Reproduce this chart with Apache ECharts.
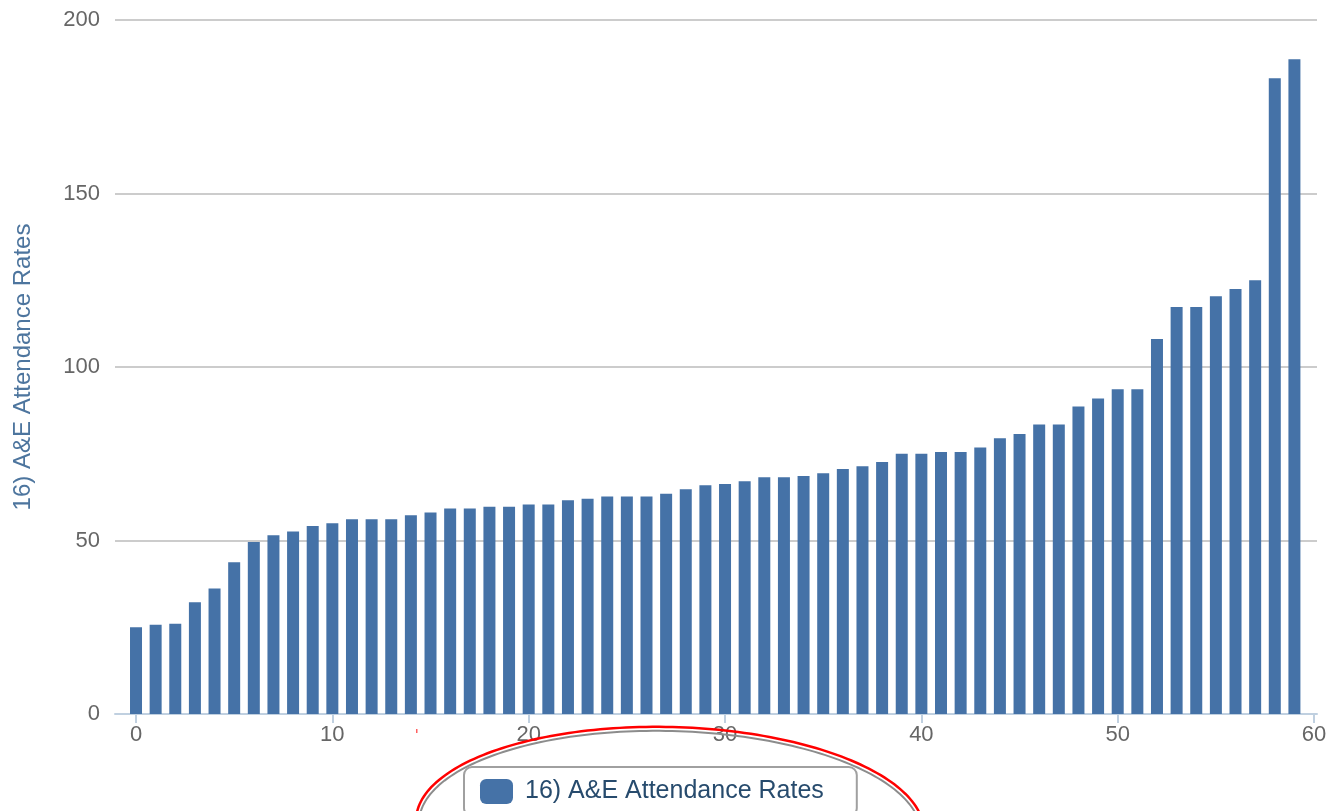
<!DOCTYPE html>
<html>
<head>
<meta charset="utf-8">
<script src="https://cdn.jsdelivr.net/npm/echarts@6/dist/echarts.min.js"></script>
<style>
html,body{margin:0;padding:0;background:#fff;}
#chart{width:1332px;height:811px;}
</style>
</head>
<body>
<div id="chart"></div>
<script>
const seriesName = '16) A&E Attendance Rates';
const indices = [0,1,2,3,4,5,6,7,8,9,10,11,12,13,14,15,16,17,18,19,20,21,22,23,24,25,26,27,28,29,30,31,32,33,34,35,36,37,38,39,40,41,42,43,44,45,46,47,48,49,50,51,52,53,54,55,56,57,58,59];
const values = [25.0,25.7,26.0,32.2,36.2,43.7,49.6,51.5,52.6,54.2,
  55.0,56.1,56.1,56.1,57.3,58.1,59.2,59.2,59.7,59.7,
  60.4,60.4,61.6,62.0,62.7,62.7,62.7,63.5,64.8,65.9,
  66.3,67.1,68.2,68.2,68.6,69.4,70.6,71.4,72.6,75.0,
  75.0,75.5,75.5,76.8,79.5,80.7,83.4,83.4,88.6,90.9,
  93.6,93.6,108.1,117.3,117.3,120.4,122.5,125.0,183.2,188.7];
const xTicks = [0,10,20,30,40,50,60];
const yTicks = [0,50,100,150,200];

function ellipsePoints(cx, cy, a, b, rot, n) {
  const pts = [];
  for (let i = 0; i < n; i++) {
    const t = i / n * Math.PI * 2;
    const x = a * Math.cos(t), y = b * Math.sin(t);
    pts.push([cx + x * Math.cos(rot) - y * Math.sin(rot), cy + x * Math.sin(rot) + y * Math.cos(rot)]);
  }
  return pts;
}

const chart = echarts.init(document.getElementById('chart'), null, {renderer: 'canvas'});
const font = '"Liberation Sans", Arial, Helvetica, sans-serif';
chart.setOption({
  animation: false,
  backgroundColor: '#ffffff',
  grid: {left: 115, right: 15, top: 20, bottom: 97, containLabel: false},
  xAxis: {
    type: 'value',
    min: -1.07,
    max: 60.15,
    axisLine: {show: true, lineStyle: {color: '#c0d0e0', width: 2}},
    axisTick: {show: true, length: 9, customValues: xTicks, lineStyle: {color: '#c0d0e0', width: 2}},
    axisLabel: {customValues: xTicks, color: '#666666', fontSize: 22, fontFamily: font, margin: 10},
    splitLine: {show: false}
  },
  yAxis: {
    type: 'value',
    min: yTicks[0],
    max: yTicks[yTicks.length - 1],
    interval: 50,
    name: seriesName,
    nameLocation: 'middle',
    nameGap: 80,
    nameTextStyle: {color: '#4d759e', fontSize: 24, fontFamily: font},
    axisLine: {show: false},
    axisTick: {show: false},
    axisLabel: {color: '#666666', fontSize: 22, fontFamily: font, margin: 15},
    splitLine: {show: true, lineStyle: {color: '#cccccc', width: 2}}
  },
  legend: {
    show: true,
    left: 464,
    top: 767,
    orient: 'horizontal',
    padding: [12, 33, 12, 16],
    borderColor: '#a0a0a0',
    borderWidth: 2,
    borderRadius: 8,
    itemWidth: 33,
    itemHeight: 25,
    icon: 'roundRect',
    textStyle: {color: '#274b6d', fontSize: 25, fontFamily: font, padding: [0, 0, 0, 7]},
    data: [seriesName]
  },
  series: [{
    name: seriesName,
    type: 'bar',
    barWidth: 12,
    itemStyle: {color: '#4572a7'},
    data: indices.map((x, i) => [x, values[i]])
  }],
  graphic: [
    {type: 'polygon', silent: true, z: 100,
     shape: {points: ellipsePoints(670, 828, 251, 97, 0.025, 240)},
     style: {fill: 'none', stroke: '#8c8c8c', lineWidth: 2}},
    {type: 'polygon', silent: true, z: 101,
     shape: {points: ellipsePoints(670, 826, 254, 99, 0.025, 240)},
     style: {fill: 'none', stroke: '#ff0000', lineWidth: 2.5}},
    {type: 'rect', silent: true, z: 101, shape: {x: 416, y: 729, width: 1.5, height: 4},
     style: {fill: '#ff6060'}}
  ]
});
</script>
</body>
</html>
